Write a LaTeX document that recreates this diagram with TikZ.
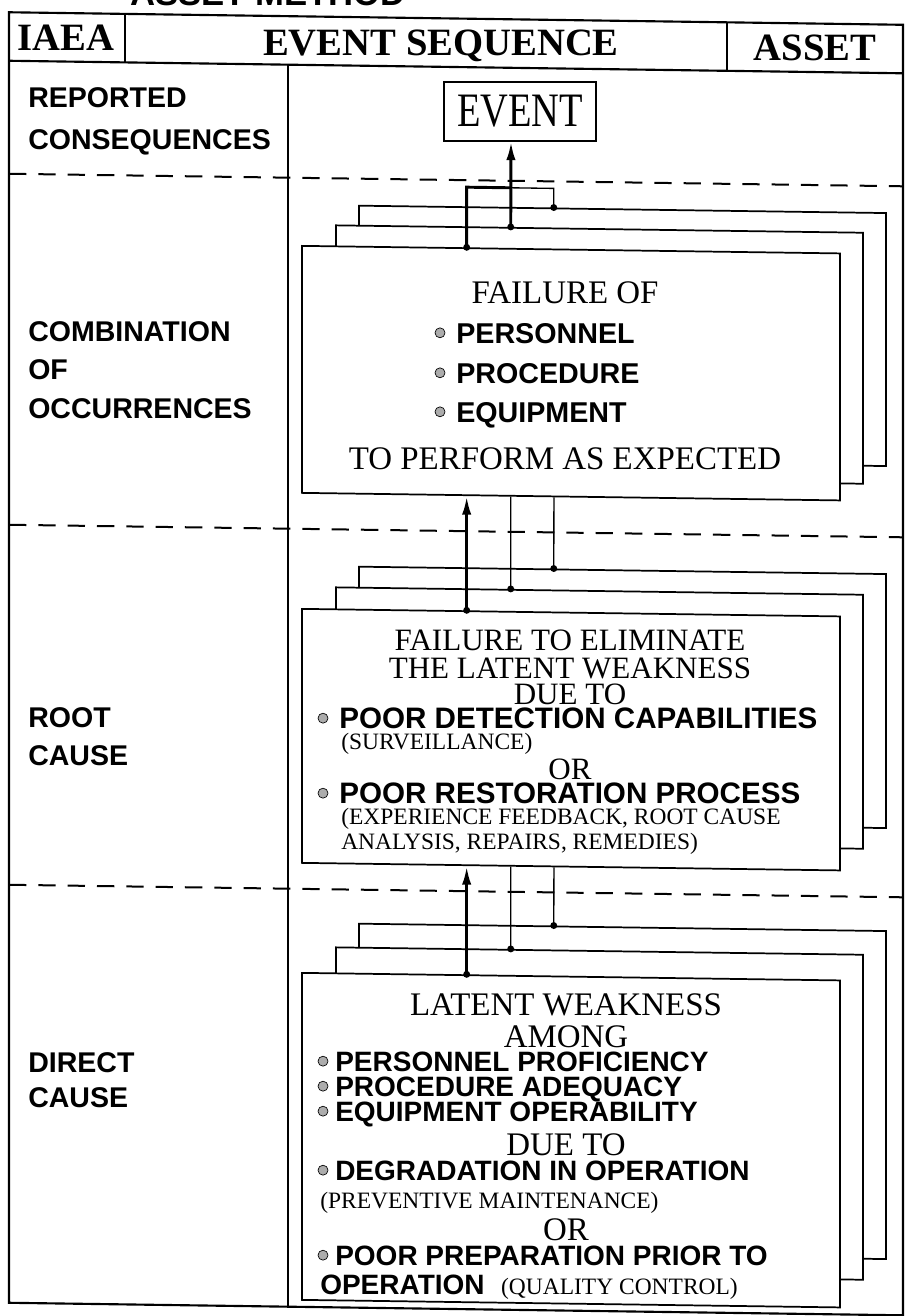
\documentclass[tikz,border=0pt]{standalone}
\usepackage{fontspec}
\setmainfont{Liberation Serif}
\setsansfont{Liberation Sans}
\usetikzlibrary{arrows.meta,calc}

\tikzset{
  frameline/.style={line width=1.6pt},
  sepline/.style={line width=1.5pt, dash pattern=on 13pt off 9pt},
  box/.style={draw, fill=white, line width=1.3pt, inner sep=0pt, transform shape},
  fbox/.style={box, minimum width=403.5pt},
  rbox/.style={box, minimum width=395.25pt},
  hdr/.style={font=\bfseries\fontsize{29}{31}\selectfont, anchor=base, inner sep=0pt},
  lbl/.style={font=\sffamily\bfseries\fontsize{21.4}{23}\selectfont, anchor=base west, inner sep=0pt},
  ser/.style={font=\fontsize{24.7}{26}\selectfont, anchor=base, inner sep=0pt},
  serb/.style={font=\fontsize{23.3}{25}\selectfont, anchor=base, inner sep=0pt},
  sml/.style={font=\fontsize{17.6}{19}\selectfont, anchor=base west, inner sep=0pt},
  itema/.style={font=\sffamily\bfseries\fontsize{21.5}{23}\selectfont, anchor=base west, inner sep=0pt},
  itemb/.style={font=\sffamily\bfseries\fontsize{22.2}{24}\selectfont, anchor=base west, inner sep=0pt},
  itemc/.style={font=\sffamily\bfseries\fontsize{21}{23}\selectfont, anchor=base west, inner sep=0pt},
  bul/.style={circle, draw, fill=gray!65, line width=0.5pt, minimum size=7.5pt, inner sep=0pt},
  feed/.style={line width=2.2pt, -{Latex[length=14pt,width=7pt]}},
  feedline/.style={line width=2.2pt},
  link/.style={line width=1pt},
}

\begin{document}
\begin{tikzpicture}[x=0.75pt,y=-0.75pt]
\useasboundingbox (0,0) rectangle (908,1316);
\fill[white] (0,0) rectangle (908,1316);

% the printed sheet runs slightly downhill to the right
\begin{scope}[cm={1,-0.014,0,1,(0pt,4.767pt)}]

% title line above the table, cut by the page edge
\node[anchor=base west, inner sep=0pt, font=\sffamily\bfseries\fontsize{26}{28}\selectfont] (title) at (130,10) {ASSET METHOD};

% table frame
\draw[frameline] (9,18.5) rectangle (903,1309);
\draw[frameline] (9,67) -- (903,67);
\draw[frameline] (125,18.5) -- (125,67);
\draw[frameline] (727,18.5) -- (727,67);
\draw[frameline] (288,67) -- (288,1309);

% header
\node[hdr] (iaea) at (66,55.5) {IAEA};
\node[hdr] (evseq) at (441,55.5) {EVENT SEQUENCE};
\node[hdr] (asset) at (815,55.5) {ASSET};

% band separators
\draw[sepline] (9,180) -- (903,180);
\draw[sepline] (9,531) -- (903,531);
\draw[sepline] (9,891) -- (903,891);

% row labels
\node[lbl] (l1a) at (28,113) {REPORTED};
\node[lbl] (l1b) at (28,155) {CONSEQUENCES};
\node[lbl] (l2a) at (28,347) {COMBINATION};
\node[lbl] (l2b) at (28,385) {OF};
\node[lbl] (l2c) at (28,424) {OCCURRENCES};
\node[lbl] (l3a) at (28,733) {ROOT};
\node[lbl] (l3b) at (28,771) {CAUSE};
\node[lbl] (l4a) at (28,1078) {DIRECT};
\node[lbl] (l4b) at (28,1113) {CAUSE};

% event box
\node[draw, line width=1.3pt, minimum width=114pt, minimum height=44pt, inner sep=0pt,
      font=\fontsize{36}{38}\selectfont] (event) at (520,110.5) {\scalebox{0.8}[1]{EVENT}};

% connector lane for the main upward path
\coordinate (laneB) at (511,0);

% stacked boxes, back to front
\node[rbox, minimum height=189.75pt] (b1) at (622.5,333.5) {};
\node[rbox, minimum height=188.25pt] (m1) at (599.5,352.5) {};
\node[fbox, minimum height=185.25pt] (f1) at (571,371.5) {};

\node[rbox, minimum height=190.5pt] (b2) at (622.5,695) {};
\node[rbox, minimum height=190.5pt] (m2) at (599.5,716) {};
\node[fbox, minimum height=190.5pt] (f2) at (571,738) {};

\node[rbox, minimum height=246pt] (b3) at (622.5,1089) {};
\node[rbox, minimum height=243.75pt] (m3) at (599.5,1111.5) {};
\node[fbox, minimum height=245.25pt] (f3) at (571,1138.5) {};

% combination of occurrences
\node[ser] (t1a) at (565,302) {FAILURE OF};
\node[bul] (d1a) at (440,333) {};
\node[itema] (t1b) at (456,343) {PERSONNEL};
\node[bul] (d1b) at (440,373) {};
\node[itema] (t1c) at (456,383) {PROCEDURE};
\node[bul] (d1c) at (440,412) {};
\node[itema] (t1d) at (456,422) {EQUIPMENT};
\node[ser] (t1e) at (565,468) {TO PERFORM AS EXPECTED};

% root cause
\node[serb] (t2a) at (570,648.5) {FAILURE TO ELIMINATE};
\node[serb] (t2b) at (570,676.5) {THE LATENT WEAKNESS};
\node[serb] (t2c) at (570,702.5) {DUE TO};
\node[bul] (d2a) at (323,720) {};
\node[itemb] (t2d) at (339,730) {POOR DETECTION CAPABILITIES};
\node[sml] (t2e) at (341,751) {(SURVEILLANCE)};
\node[serb] (t2f) at (570,777.5) {OR};
\node[bul] (d2b) at (323,795) {};
\node[itemb] (t2g) at (339,805) {POOR RESTORATION PROCESS};
\node[sml] (t2h) at (341,826) {(EXPERIENCE FEEDBACK, ROOT CAUSE};
\node[sml] (t2i) at (341,851) {ANALYSIS, REPAIRS, REMEDIES)};

% direct cause
\node[ser] (t3a) at (566,1014) {LATENT WEAKNESS};
\node[ser] (t3b) at (566,1046) {AMONG};
\node[bul] (d3a) at (323,1063) {};
\node[itemc] (t3c) at (335,1073) {PERSONNEL PROFICIENCY};
\node[bul] (d3b) at (323,1088) {};
\node[itemc] (t3d) at (335,1098) {PROCEDURE ADEQUACY};
\node[bul] (d3c) at (323,1113) {};
\node[itemc] (t3e) at (335,1123) {EQUIPMENT OPERABILITY};
\node[ser] (t3f) at (566,1154) {DUE TO};
\node[bul] (d3d) at (323,1172) {};
\node[itemc] (t3g) at (335,1182) {DEGRADATION IN OPERATION};
\node[sml] (t3h) at (320,1210) {(PREVENTIVE MAINTENANCE)};
\node[ser] (t3i) at (566,1239) {OR};
\node[bul] (d3e) at (323,1257) {};
\node[itemc] (t3j) at (335,1267) {POOR PREPARATION PRIOR TO};
\node[itemc] (t3k) at (320,1296) {OPERATION};
\node[sml] (t3l) at (t3k.base east) [xshift=12pt] {(QUALITY CONTROL)};

% attachment points on the box edges (lanes at x = 467, 511, 554)
\foreach \g in {1,2,3}{
  \coordinate (fa\g) at ($(f\g.north west)!0.3067!(f\g.north east)$);
  \coordinate (mb\g) at ($(m\g.north west)!0.3321!(m\g.north east)$);
  \coordinate (bc\g) at ($(b\g.north west)!0.3700!(b\g.north east)$);
  \coordinate (sa\g) at ($(f\g.south west)!0.3067!(f\g.south east)$);
  \coordinate (sb\g) at ($(f\g.south west)!0.3885!(f\g.south east)$);
  \coordinate (sc\g) at ($(f\g.south west)!0.4684!(f\g.south east)$);
}

% links into the event box
\coordinate (join) at (511,187);
\draw[feedline] (fa1) |- (join);
\draw[link] (bc1) |- (join);
\draw[feed] (mb1) -- (event.south -| laneB);

% links from root cause to combination of occurrences
\draw[feed] (fa2) -- (sa1);
\draw[link] (mb2) -- (sb1);
\draw[link] (bc2) -- (sc1);

% links from direct cause to root cause
\draw[feed] (fa3) -- (sa2);
\draw[link] (mb3) -- (sb2);
\draw[link] (bc3) -- (sc2);

% junction dots on the box tops
\foreach \g in {1,2,3}{
  \fill (fa\g) circle (2.6pt);
  \fill (mb\g) circle (2.6pt);
  \fill (bc\g) circle (2.6pt);
}
\end{scope}
\end{tikzpicture}
\end{document}
